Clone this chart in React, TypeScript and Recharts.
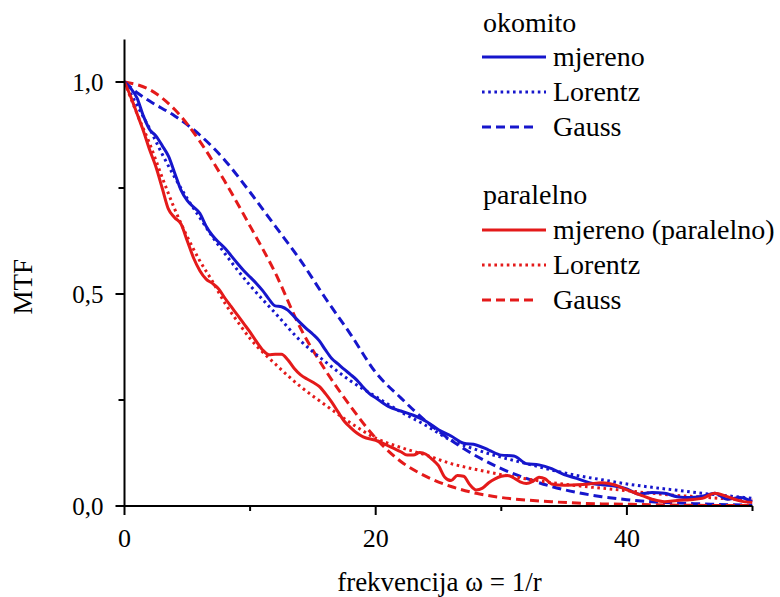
import React from 'react';
import { LineChart, Line, XAxis, YAxis, Legend } from 'recharts';

// ---- data (x = frekvencija, y = MTF) ----
const okomitoMjereno: [number, number][] = [
  [0, 1.0], [0.5, 0.985], [1, 0.962], [1.5, 0.92], [2, 0.888], [2.5, 0.873], [3, 0.85], [3.5, 0.825],
  [4, 0.785], [4.5, 0.745], [5, 0.72], [5.5, 0.705], [6, 0.69], [6.5, 0.66], [7, 0.638], [7.5, 0.622],
  [8, 0.608], [8.5, 0.59], [9, 0.572], [9.5, 0.555], [10, 0.54], [10.5, 0.525], [11, 0.508], [11.5, 0.488],
  [12, 0.472], [12.5, 0.47], [13, 0.462], [13.5, 0.447], [14, 0.432], [14.5, 0.418], [15, 0.405], [15.5, 0.39],
  [16, 0.368], [16.5, 0.348], [17, 0.335], [17.5, 0.322], [18, 0.31], [18.5, 0.297], [19, 0.28], [19.5, 0.265],
  [20, 0.255], [21, 0.235], [22, 0.224], [23, 0.214], [24, 0.2], [25, 0.18], [26, 0.165], [27, 0.148],
  [28, 0.144], [29, 0.132], [30, 0.12], [31, 0.118], [32, 0.1], [33, 0.097], [34, 0.088], [35, 0.074],
  [36, 0.065], [37, 0.055], [38, 0.05], [39, 0.047], [40, 0.04], [41, 0.028], [42, 0.032], [43, 0.03],
  [44, 0.022], [45, 0.02], [46, 0.023], [47, 0.03], [48, 0.016], [49, 0.02], [50, 0.01],
];

const okomitoLorentz: [number, number][] = [
  [0, 1.0], [1, 0.945], [2, 0.89], [3, 0.83], [4, 0.775], [5, 0.725], [6, 0.68], [7, 0.635], [8, 0.595],
  [10, 0.52], [12, 0.455], [14, 0.39], [16, 0.34], [18, 0.295], [20, 0.258], [22, 0.222], [24, 0.19],
  [26, 0.155], [28, 0.133], [30, 0.115], [32, 0.1], [34, 0.085], [36, 0.072], [38, 0.062], [40, 0.052],
  [42, 0.044], [44, 0.037], [46, 0.03], [48, 0.024], [50, 0.018],
];

const okomitoGauss: [number, number][] = [
  [0, 1.0], [1, 0.975], [2, 0.955], [4, 0.92], [6, 0.875], [8, 0.815], [10, 0.74], [12, 0.66], [14, 0.58],
  [16, 0.49], [18, 0.405], [20, 0.315], [22, 0.255], [24, 0.2], [26, 0.155], [28, 0.118], [30, 0.088],
  [32, 0.065], [34, 0.046], [36, 0.032], [38, 0.022], [40, 0.015], [42, 0.01], [44, 0.007], [46, 0.005],
  [48, 0.003], [50, 0.002],
];

const paralelnoMjereno: [number, number][] = [
  [0, 1.0], [0.5, 0.965], [1, 0.925], [1.5, 0.885], [2, 0.84], [2.5, 0.8], [3, 0.75], [3.5, 0.7],
  [4, 0.68], [4.5, 0.665], [5, 0.625], [5.5, 0.585], [6, 0.555], [6.5, 0.535], [7, 0.525], [7.5, 0.512],
  [8, 0.49], [8.5, 0.47], [9, 0.45], [9.5, 0.43], [10, 0.41], [10.5, 0.388], [11, 0.368], [11.5, 0.357],
  [12, 0.358], [12.5, 0.358], [13, 0.345], [13.5, 0.325], [14, 0.31], [14.5, 0.3], [15, 0.292], [15.5, 0.282],
  [16, 0.265], [16.5, 0.245], [17, 0.222], [17.5, 0.2], [18, 0.185], [18.5, 0.172], [19, 0.163], [20, 0.155],
  [21, 0.142], [22, 0.128], [22.5, 0.12], [23, 0.12], [23.5, 0.126], [24, 0.122], [24.5, 0.11], [25, 0.095],
  [25.5, 0.068], [26, 0.06], [26.5, 0.072], [27, 0.07], [27.5, 0.05], [28, 0.038], [28.5, 0.042], [29, 0.055],
  [29.5, 0.064], [30, 0.07], [30.5, 0.072], [31, 0.066], [31.5, 0.057], [32, 0.053], [32.5, 0.058], [33, 0.068],
  [33.5, 0.064], [34, 0.052], [35, 0.049], [36, 0.05], [37, 0.052], [38, 0.055], [39, 0.05], [40, 0.038],
  [41, 0.027], [42, 0.016], [43, 0.01], [44, 0.013], [45, 0.015], [46, 0.018], [47, 0.03], [48, 0.022],
  [49, 0.012], [50, 0.008],
];

const paralelnoLorentz: [number, number][] = [
  [0, 1.0], [1, 0.925], [2, 0.855], [3, 0.775], [4, 0.7], [5, 0.635], [6, 0.578], [7, 0.53], [8, 0.478],
  [9, 0.435], [10, 0.395], [12, 0.335], [14, 0.282], [16, 0.238], [18, 0.196], [20, 0.16], [22, 0.138],
  [24, 0.12], [26, 0.1], [28, 0.086], [30, 0.074], [32, 0.064], [34, 0.055], [36, 0.048], [38, 0.042],
  [40, 0.036], [42, 0.03], [44, 0.025], [46, 0.021], [48, 0.017], [50, 0.014],
];

const paralelnoGauss: [number, number][] = [
  [0, 1.0], [2, 0.982], [4, 0.935], [6, 0.86], [8, 0.765], [10, 0.66], [12, 0.55], [14, 0.42], [16, 0.32],
  [18, 0.235], [20, 0.16], [22, 0.105], [24, 0.07], [26, 0.046], [28, 0.03], [30, 0.02], [32, 0.014],
  [34, 0.01], [36, 0.007], [38, 0.005], [40, 0.004], [44, 0.002], [50, 0.001],
];

const xTicks = [0, 10, 20, 30, 40, 50];
const xLabeled = [0, 20, 40];
const yTicks = [0, 0.25, 0.5, 0.75, 1.0];
const yLabeled = [0, 0.5, 1.0];

const groupTitles = ['okomito', 'paralelno'];
const seriesNames = ['mjereno', 'Lorentz', 'Gauss'];
const seriesNamesPar = ['mjereno (paralelno)', 'Lorentz', 'Gauss'];
const xTitleParts = ['frekvencija ', 'ω', ' = 1/r'];
const yTitle = 'MTF';

const BLUE = '#1616cc';
const RED = '#e41a1a';
const FONT = "'Liberation Serif', 'Tinos', 'Times New Roman'";
const DOTTED = '2.6 3.6';
const DASHED = '9 5';

const textStyle = (size: number): React.CSSProperties => ({ fontFamily: FONT, fontSize: size });

const toPts = (arr: [number, number][]) => arr.map(([x, y]) => ({ x, y }));

const XTick = (props: any) => {
  const { x, y, payload } = props;
  const major = xLabeled.includes(payload.value);
  return (
    <g>
      <line x1={x} x2={x} y1={y} y2={y + (major ? 9 : 5)} stroke="#000" strokeWidth={2} />
      {major && (
        <text x={x} y={y + 41} textAnchor="middle" fill="#000" fontFamily="Liberation Serif" style={textStyle(26)}>
          {String(payload.value)}
        </text>
      )}
    </g>
  );
};

const YTick = (props: any) => {
  const { x, y, payload } = props;
  const major = yLabeled.some((v) => Math.abs(v - payload.value) < 1e-9);
  return (
    <g>
      <line x1={x} x2={x - (major ? 9 : 6)} y1={y} y2={y} stroke="#000" strokeWidth={2} />
      {major && (
        <text x={x - 21} y={y + 9} textAnchor="end" fill="#000" fontFamily="Liberation Serif" style={textStyle(25)}>
          {payload.value.toFixed(1).replace('.', ',')}
        </text>
      )}
    </g>
  );
};

const XTitle = (props: any) => {
  const vb = props.viewBox || { x: 0, y: 0, width: 0, height: 0 };
  return (
    <text x={vb.x + vb.width / 2 + 1} y={vb.y + 85} textAnchor="middle" fill="#000" fontFamily="Liberation Serif" style={textStyle(27)}>
      <tspan>{xTitleParts[0]}</tspan>
      <tspan>{xTitleParts[1]}</tspan>
      <tspan>{xTitleParts[2]}</tspan>
    </text>
  );
};

const YTitle = (props: any) => {
  const vb = props.viewBox || { x: 0, y: 0, width: 0, height: 0 };
  const cx = 23;
  const cy = vb.y + vb.height / 2 + 14;
  return (
    <text
      x={cx}
      y={cy}
      dy="0.33em"
      transform={`rotate(-90, ${cx}, ${cy})`}
      textAnchor="middle"
      fill="#000"
      fontFamily="Liberation Serif"
      style={textStyle(27)}
    >
      {yTitle}
    </text>
  );
};

const LegendContent = () => {
  const x0 = 482;
  const x1 = 546;
  const xd = 533;
  const tx = 553;
  const rows = [
    { color: BLUE, dash: undefined as string | undefined, end: x1, y: 57, label: seriesNames[0] },
    { color: BLUE, dash: DOTTED, end: x1, y: 92, label: seriesNames[1] },
    { color: BLUE, dash: DASHED, end: xd, y: 127, label: seriesNames[2] },
    { color: RED, dash: undefined as string | undefined, end: x1, y: 230, label: seriesNamesPar[0] },
    { color: RED, dash: DOTTED, end: x1, y: 265, label: seriesNamesPar[1] },
    { color: RED, dash: DASHED, end: xd, y: 300, label: seriesNamesPar[2] },
  ];
  return (
    <svg width={780} height={597} style={{ position: 'absolute', left: 0, top: 0 }}>
      <text x={483} y={32} fill="#000" fontFamily="Liberation Serif" style={textStyle(28)}>{groupTitles[0]}</text>
      <text x={483} y={204} fill="#000" fontFamily="Liberation Serif" style={textStyle(28)}>{groupTitles[1]}</text>
      {rows.map((r, i) => (
        <g key={i}>
          <line x1={x0} x2={r.end} y1={r.y} y2={r.y} stroke={r.color} strokeWidth={3} strokeDasharray={r.dash} />
          <text x={tx} y={r.y + 9} fill="#000" fontFamily="Liberation Serif" style={textStyle(28)}>{r.label}</text>
        </g>
      ))}
    </svg>
  );
};

export default function App() {
  return (
    <div style={{ position: 'absolute', left: 0, top: 0, width: 780, height: 597, background: '#fff', fontFamily: FONT }}>
      <LineChart
        width={780}
        height={597}
        margin={{ top: 39.6, right: 27.5, bottom: 31, left: 64.5 }}
        style={{ fontFamily: FONT }}
      >
        <XAxis
          type="number"
          dataKey="x"
          domain={[0, 50]}
          ticks={xTicks}
          interval={0}
          allowDataOverflow
          axisLine={{ stroke: '#000', strokeWidth: 2 }}
          tickLine={false}
          tickSize={0}
          tickMargin={0}
          tick={<XTick />}
          height={60}
          label={<XTitle />}
        />
        <YAxis
          type="number"
          domain={[0, 1.1]}
          ticks={yTicks}
          interval={0}
          allowDataOverflow
          axisLine={{ stroke: '#000', strokeWidth: 2 }}
          tickLine={false}
          tickSize={0}
          tickMargin={0}
          tick={<YTick />}
          width={60}
          label={<YTitle />}
        />
        <Legend
          layout="vertical"
          align="center"
          verticalAlign="middle"
          wrapperStyle={{ position: 'absolute', left: 0, top: 0, pointerEvents: 'none' }}
          content={<LegendContent />}
        />
        <Line data={toPts(okomitoGauss)} dataKey="y" type="monotone" stroke={BLUE} strokeWidth={3} strokeDasharray={DASHED} dot={false} isAnimationActive={false} />
        <Line data={toPts(paralelnoGauss)} dataKey="y" type="monotone" stroke={RED} strokeWidth={3} strokeDasharray={DASHED} dot={false} isAnimationActive={false} />
        <Line data={toPts(okomitoLorentz)} dataKey="y" type="monotone" stroke={BLUE} strokeWidth={3} strokeDasharray={DOTTED} dot={false} isAnimationActive={false} />
        <Line data={toPts(paralelnoLorentz)} dataKey="y" type="monotone" stroke={RED} strokeWidth={3} strokeDasharray={DOTTED} dot={false} isAnimationActive={false} />
        <Line data={toPts(okomitoMjereno)} dataKey="y" type="monotone" stroke={BLUE} strokeWidth={3} dot={false} isAnimationActive={false} />
        <Line data={toPts(paralelnoMjereno)} dataKey="y" type="monotone" stroke={RED} strokeWidth={3} dot={false} isAnimationActive={false} />
      </LineChart>
    </div>
  );
}
